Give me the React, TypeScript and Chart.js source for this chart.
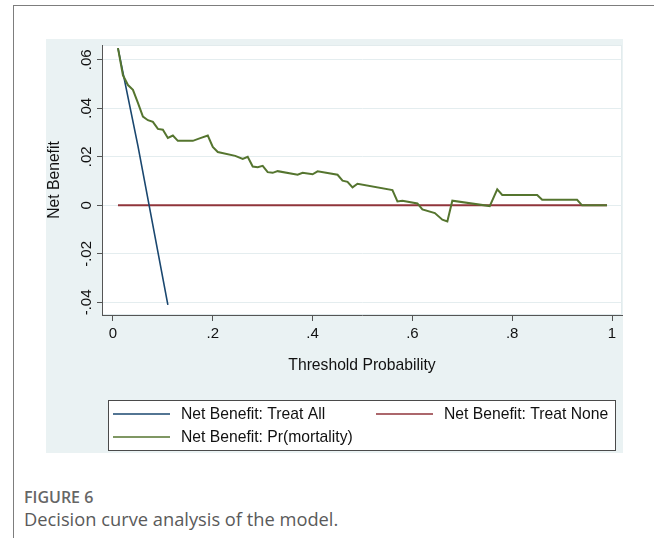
import React, { useEffect, useRef } from "react";
import { Chart, registerables } from "chart.js";

Chart.register(...registerables);

// ---- data ----
const xTicks = [0, 0.2, 0.4, 0.6, 0.8, 1];
const yTicks = [-0.04, -0.02, 0, 0.02, 0.04, 0.06];

const treatAllX = [0.01, 0.05, 0.11];
const treatAllY = [0.0648, 0.0245, -0.041];

const treatNoneX = [0.01, 0.99];
const treatNoneY = [0, 0];

const modelX = [
  0.01, 0.02, 0.03, 0.04, 0.05, 0.06, 0.07, 0.08, 0.09, 0.1,
  0.11, 0.12, 0.13, 0.16, 0.175, 0.19, 0.2, 0.21, 0.245, 0.26,
  0.27, 0.28, 0.29, 0.3, 0.31, 0.32, 0.33, 0.37, 0.38, 0.4,
  0.41, 0.45, 0.46, 0.47, 0.48, 0.49, 0.56, 0.57, 0.58, 0.61,
  0.62, 0.645, 0.66, 0.67, 0.68, 0.755, 0.77, 0.78, 0.85, 0.86,
  0.93, 0.94, 0.99,
];
const modelY = [
  0.0648, 0.0536, 0.0496, 0.0476, 0.0422, 0.0366, 0.0351, 0.0344, 0.0315, 0.0312,
  0.0278, 0.0288, 0.0266, 0.0266, 0.0277, 0.0288, 0.0241, 0.022, 0.0204, 0.0191,
  0.02, 0.016, 0.0157, 0.0163, 0.0137, 0.0134, 0.0141, 0.0126, 0.0134, 0.0128,
  0.014, 0.0126, 0.0102, 0.0097, 0.0074, 0.0089, 0.0063, 0.0016, 0.0019, 0.0008,
  -0.0017, -0.0032, -0.0059, -0.0066, 0.0019, -0.0003, 0.0066, 0.0043, 0.0043, 0.0023,
  0.0023, 0, 0,
];

const seriesLabels = [
  "Net Benefit: Treat All",
  "Net Benefit: Treat None",
  "Net Benefit: Pr(mortality)",
];
const seriesColors = ["#1a476f", "#90353b", "#55752f"];

// ---- styling ----
const BG = "#eaf2f3";
const FONT = '"Liberation Sans", Arial, Helvetica, sans-serif';
const TEXT = "#111111";
const AXIS = "#555555";

const zip = (xs: number[], ys: number[]) => xs.map((x, i) => ({ x, y: ys[i] }));

const fmt = (v: number) => {
  const r = Number(Number(v).toFixed(3));
  if (r === 0) return "0";
  const s = Math.abs(r).toString().replace(/^0\./, ".");
  return (r < 0 ? "-" : "") + s;
};

const bgPlugin = {
  id: "stataBg",
  beforeDraw(chart: any) {
    const { ctx, chartArea: a, width, height } = chart;
    ctx.save();
    ctx.fillStyle = BG;
    ctx.fillRect(0, 0, width, height);
    ctx.fillStyle = "#ffffff";
    ctx.fillRect(a.left, a.top, a.right - a.left, a.bottom - a.top);
    ctx.strokeStyle = "#e2ebed";
    ctx.lineWidth = 1;
    ctx.strokeRect(a.left + 0.5, a.top + 0.5, a.right - a.left - 1, a.bottom - a.top - 1);
    ctx.restore();
  },
};

const legendPlugin = {
  id: "boxLegend",
  afterDraw(chart: any) {
    const { ctx, chartArea: a } = chart;
    const bx = a.left + 6;
    const by = a.bottom + 85;
    const bw = 508;
    const bh = 51;
    ctx.save();
    ctx.fillStyle = "#ffffff";
    ctx.fillRect(bx, by, bw, bh);
    ctx.strokeStyle = "#4a4a4a";
    ctx.lineWidth = 1;
    ctx.strokeRect(bx + 0.5, by + 0.5, bw - 1, bh - 1);
    const cols = [5, 268];
    const rows = [14, 37];
    ctx.font = `15.7px ${FONT}`;
    ctx.textBaseline = "middle";
    ctx.textAlign = "left";
    chart.data.datasets.forEach((ds: any, i: number) => {
      const cx = bx + cols[i % 2];
      const cy = by + rows[Math.floor(i / 2)];
      ctx.strokeStyle = ds.borderColor;
      ctx.lineWidth = 1.6;
      ctx.beginPath();
      ctx.moveTo(cx, cy);
      ctx.lineTo(cx + 57, cy);
      ctx.stroke();
      ctx.fillStyle = TEXT;
      ctx.fillText(ds.label, cx + 68, cy + 0.5);
    });
    ctx.restore();
  },
};

export default function App() {
  const ref = useRef<HTMLCanvasElement | null>(null);

  useEffect(() => {
    if (!ref.current) return;
    const chart = new Chart(ref.current, {
      type: "line",
      data: {
        datasets: [
          {
            label: seriesLabels[0],
            data: zip(treatAllX, treatAllY),
            borderColor: seriesColors[0],
            borderWidth: 1.6,
            pointRadius: 0,
            tension: 0,
            order: 1,
          },
          {
            label: seriesLabels[1],
            data: zip(treatNoneX, treatNoneY),
            borderColor: seriesColors[1],
            borderWidth: 2,
            pointRadius: 0,
            tension: 0,
            order: 2,
          },
          {
            label: seriesLabels[2],
            data: zip(modelX, modelY),
            borderColor: seriesColors[2],
            borderWidth: 2,
            pointRadius: 0,
            tension: 0,
            order: 0,
          },
        ],
      },
      options: {
        responsive: false,
        animation: false,
        events: [],
        layout: { padding: { top: 0, right: 1, bottom: 0, left: 0 } },
        plugins: {
          legend: { display: false },
          tooltip: { enabled: false },
        },
        scales: {
          x: {
            type: "linear",
            min: -0.022,
            max: 1.02,
            afterBuildTicks: (s: any) => {
              s.ticks = xTicks.map((v) => ({ value: v }));
            },
            afterFit: (s: any) => {
              s.height = 138;
            },
            grid: {
              drawOnChartArea: false,
              drawTicks: true,
              tickLength: 6,
              tickColor: AXIS,
              tickWidth: 1,
            },
            border: { color: AXIS, width: 1 },
            ticks: {
              font: { family: FONT, size: 15 },
              color: TEXT,
              padding: 4,
              maxRotation: 0,
              autoSkip: false,
              callback: (v: any) => fmt(v),
            },
            title: {
              display: true,
              text: "Threshold Probability",
              font: { family: FONT, size: 15.7 },
              color: TEXT,
              padding: { top: 0, bottom: 78 },
            },
          },
          y: {
            type: "linear",
            min: -0.0452,
            max: 0.0661,
            afterBuildTicks: (s: any) => {
              s.ticks = yTicks.map((v) => ({ value: v }));
            },
            afterFit: (s: any) => {
              s.width = 56;
            },
            grid: {
              color: "#e4edef",
              lineWidth: 1,
              drawTicks: true,
              tickLength: 5,
              tickColor: AXIS,
              tickWidth: 1,
            },
            border: { color: AXIS, width: 1 },
            ticks: {
              font: { family: FONT, size: 15 },
              color: TEXT,
              minRotation: 90,
              maxRotation: 90,
              crossAlign: "center",
              padding: -3,
              autoSkip: false,
              callback: (v: any) => fmt(v),
            },
            title: {
              display: true,
              text: "Net Benefit",
              font: { family: FONT, size: 15.7, lineHeight: 1 },
              color: TEXT,
              padding: { top: 1, bottom: 0 },
            },
          },
        },
      } as any,
      plugins: [bgPlugin, legendPlugin],
    });
    return () => chart.destroy();
  }, []);

  return (
    <div
      style={{
        position: "absolute",
        left: 0,
        top: 0,
        width: 654,
        height: 538,
        background: "#ffffff",
        overflow: "hidden",
      }}
    >
      <div
        style={{
          position: "absolute",
          left: 13,
          top: 5,
          right: -2,
          bottom: -2,
          borderTop: "1px solid #7d7d7d",
          borderLeft: "1px solid #7d7d7d",
        }}
      />
      <canvas
        ref={ref}
        width={577}
        height={414}
        style={{ position: "absolute", left: 46, top: 39, width: 577, height: 414 }}
      />
      <div
        style={{
          position: "absolute",
          left: 24,
          top: 489,
          fontFamily: '"Open Sans", "Noto Sans", sans-serif',
          fontWeight: 600,
          fontSize: 16,
          lineHeight: "16px",
          color: "#666666",
          whiteSpace: "nowrap",
        }}
      >
        FIGURE 6
      </div>
      <div
        style={{
          position: "absolute",
          left: 24,
          top: 510,
          fontFamily: '"Open Sans", "Noto Sans", sans-serif',
          fontWeight: 400,
          fontSize: 18.3,
          lineHeight: "18px",
          color: "#5a5a5a",
          whiteSpace: "nowrap",
        }}
      >
        Decision curve analysis of the model.
      </div>
    </div>
  );
}
